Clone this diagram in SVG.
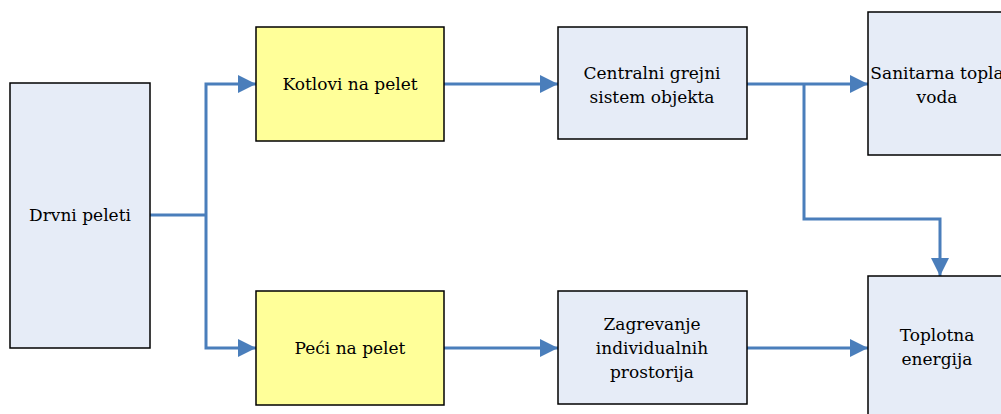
<svg xmlns="http://www.w3.org/2000/svg" width="1001" height="414" viewBox="0 0 1001 414">
<style>
.box{fill:#e6ecf7;stroke:#000;stroke-width:1.5}
.yel{fill:#ffff99;stroke:#000;stroke-width:1.5}
.t{font-family:"DejaVu Serif","Liberation Serif",serif;font-size:17px;fill:#000;text-anchor:middle}
.c{fill:none;stroke:#4a7ebb;stroke-width:3}
</style>
<defs>
<marker id="ah" markerUnits="userSpaceOnUse" markerWidth="20" markerHeight="20" refX="18" refY="9" orient="auto">
<path d="M0,0 L18,9 L0,18 Z" fill="#4a7ebb"/>
</marker>
</defs>
<rect width="1001" height="414" fill="#fff"/>
<g id="connectors">
<path class="c" d="M150,215 H206"/>
<path class="c" d="M206,215 V84 H256" marker-end="url(#ah)"/>
<path class="c" d="M206,215 V348 H256" marker-end="url(#ah)"/>
<path class="c" d="M444,84 H558" marker-end="url(#ah)"/>
<path class="c" d="M444,348 H558" marker-end="url(#ah)"/>
<path class="c" d="M747,84 H868" marker-end="url(#ah)"/>
<path class="c" d="M804,84 V219 H940 V276" marker-end="url(#ah)"/>
<path class="c" d="M747,348 H868" marker-end="url(#ah)"/>
</g>
<g id="drvni">
<rect class="box" x="10" y="83" width="140" height="265"/>
<text class="t" x="80" y="221">Drvni peleti</text>
</g>
<g id="kotlovi">
<rect class="yel" x="256" y="27" width="188" height="114"/>
<text class="t" x="350" y="90">Kotlovi na pelet</text>
</g>
<g id="peci">
<rect class="yel" x="256" y="291" width="188" height="114"/>
<text class="t" x="350" y="354">Peći na pelet</text>
</g>
<g id="centralni">
<rect class="box" x="558" y="27" width="189" height="112"/>
<text class="t" x="652" y="79">Centralni grejni</text>
<text class="t" x="652" y="103">sistem objekta</text>
</g>
<g id="zagrevanje">
<rect class="box" x="558" y="291" width="189" height="113"/>
<text class="t" x="652" y="330">Zagrevanje</text>
<text class="t" x="652" y="354">individualnih</text>
<text class="t" x="652" y="378">prostorija</text>
</g>
<g id="sanitarna">
<rect class="box" x="868" y="12" width="138" height="143"/>
<text class="t" x="937" y="79">Sanitarna topla</text>
<text class="t" x="937" y="103">voda</text>
</g>
<g id="toplotna">
<rect class="box" x="868" y="276" width="138" height="145"/>
<text class="t" x="937" y="341">Toplotna</text>
<text class="t" x="937" y="365">energija</text>
</g>
</svg>
